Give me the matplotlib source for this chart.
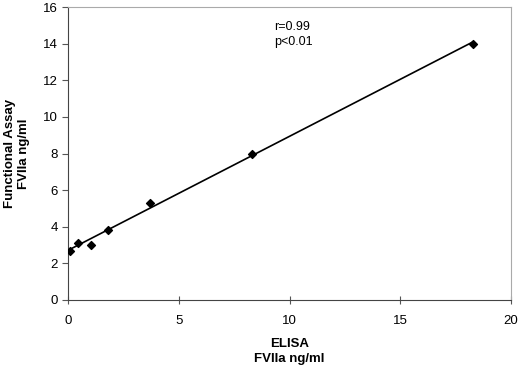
import numpy as np
import matplotlib
matplotlib.use('Agg')
import matplotlib.pyplot as plt

plt.rcParams['font.family'] = ['Liberation Sans', 'DejaVu Sans']

# ELISA vs functional assay values (FVIIa ng/ml)
elisa = [0.08, 0.45, 1.04, 1.81, 3.69, 8.32, 18.27]
functional = [2.66, 3.13, 3.02, 3.84, 5.30, 7.99, 14.0]
x_ticks = [0, 5, 10, 15, 20]
y_ticks = [0, 2, 4, 6, 8, 10, 12, 14, 16]

fig = plt.figure(figsize=(5.2, 3.67), dpi=100)
ax = fig.add_axes([68 / 520, 67 / 367, 443 / 520, 293 / 367])

# linear fit line over data range
slope, intercept = np.polyfit(elisa, functional, 1)
xs = np.array([min(elisa), max(elisa)])
ax.plot(xs, slope * xs + intercept, color='black', linewidth=1.2)
ax.scatter(elisa, functional, marker='D', s=16, color='black', zorder=3)

ax.text(9.3, 15.25, 'r=0.99\np<0.01', fontsize=9, va='top', ha='left', linespacing=1.4)

ax.set_xlim(0, 20)
ax.set_ylim(0, 16)
ax.set_xticks(x_ticks)
ax.set_yticks(y_ticks)
ax.tick_params(axis='x', direction='inout', length=6, labelsize=9.5, pad=8, color='#555555')
ax.tick_params(axis='y', direction='out', length=4, labelsize=9.5, color='#555555')

for side in ['left', 'bottom']:
    ax.spines[side].set_color('#444444')
for side in ['top', 'right']:
    ax.spines[side].set_color('#aaaaaa')

ax.set_xlabel('ELISA\nFVIIa ng/ml', fontsize=9.5, fontweight='bold', labelpad=8, linespacing=1.3)
ax.set_ylabel('Functional Assay\nFVIIa ng/ml', fontsize=9.5, fontweight='bold', labelpad=9, linespacing=1.3)

plt.savefig('out.png', dpi=100)
plt.close()
